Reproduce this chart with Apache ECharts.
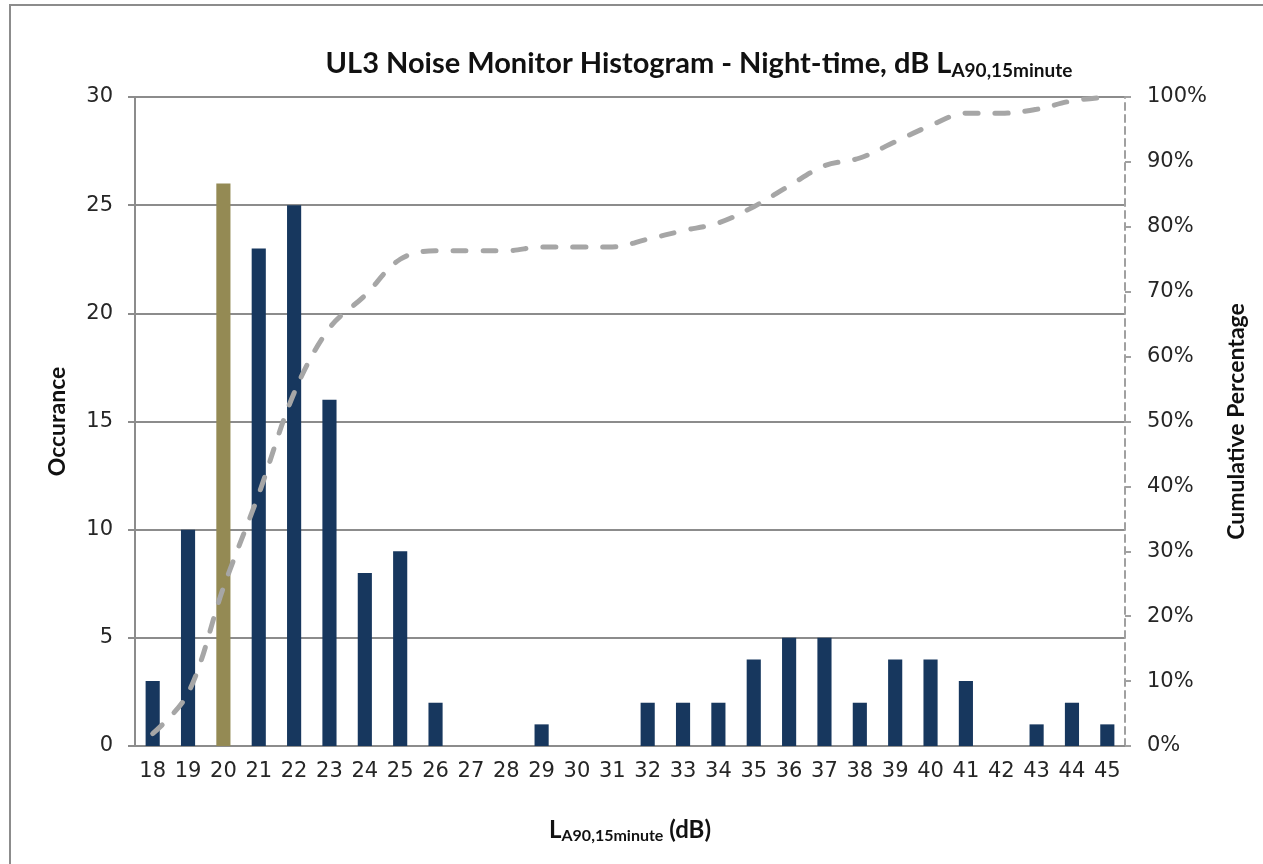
<!DOCTYPE html>
<html>
<head>
<meta charset="utf-8">
<script src="https://cdn.jsdelivr.net/npm/echarts@6/dist/echarts.min.js"></script>
<style>
  html, body { margin: 0; padding: 0; background: #fff; }
  #chart { width: 1263px; height: 864px; }
</style>
</head>
<body>
<div id="chart"></div>
<script>
// 噪声等级 (dB)
const levels = ['18','19','20','21','22','23','24','25','26','27','28','29','30','31',
  '32','33','34','35','36','37','38','39','40','41','42','43','44','45'];
// 出现次数
const occurrence = [3, 10, 26, 23, 25, 16, 8, 9, 2, 0, 0, 1, 0, 0,
  2, 2, 2, 4, 5, 5, 2, 4, 4, 3, 0, 1, 2, 1];
// 累计百分比
const cumulative = [1.9, 8.1, 24.4, 38.8, 54.4, 64.4, 69.4, 75.0, 76.3, 76.3, 76.3, 76.9, 76.9, 76.9,
  78.1, 79.4, 80.6, 83.1, 86.3, 89.4, 90.6, 93.1, 95.6, 97.5, 97.5, 98.1, 99.4, 100];
// 高亮的等级
const highlightLevel = '20';

const NAVY = '#17375e';
const OLIVE = '#948a54';
const GREY = '#8c8c8c';

const chart = echarts.init(document.getElementById('chart'));

const barData = occurrence.map((v, i) => ({
  value: v,
  itemStyle: { color: levels[i] === highlightLevel ? OLIVE : NAVY }
}));

const option = {
  animation: false,
  backgroundColor: '#fff',
  textStyle: { fontFamily: 'DejaVu Sans' },
  graphic: [{
    type: 'rect',
    shape: { x: 10, y: 5, width: 1300, height: 900 },
    style: { fill: 'none', stroke: GREY, lineWidth: 2 },
    silent: true
  }],
  title: {
    text: '{m|UL3 Noise Monitor Histogram - Night-time, dB L}{s|A90,15minute}',
    left: 694,
    textAlign: 'center',
    top: 42,
    textStyle: {
      rich: {
        m: { fontFamily: 'Lato', fontWeight: 'bold', fontSize: 29, color: '#111' },
        s: { fontFamily: 'Lato', fontWeight: 'bold', fontSize: 19, color: '#111', verticalAlign: 'bottom', padding: [14, 0, 0, 0] }
      }
    }
  },
  grid: { left: 135, right: 138, top: 97, bottom: 118 },
  xAxis: {
    type: 'category',
    data: levels,
    name: '{m|L}{s|A90,15minute}{m| (dB)}',
    nameLocation: 'middle',
    nameGap: 70,
    nameTextStyle: {
      rich: {
        m: { fontFamily: 'Lato', fontWeight: 'bold', fontSize: 24, color: '#111' },
        s: { fontFamily: 'Lato', fontWeight: 'bold', fontSize: 16, color: '#111', verticalAlign: 'bottom', padding: [12, 0, 0, 0] }
      }
    },
    axisLine: { lineStyle: { color: GREY, width: 2 } },
    axisTick: { length: 7, lineStyle: { color: GREY, width: 2 } },
    axisLabel: { fontSize: 21, color: '#262626', margin: 15, interval: 0 }
  },
  yAxis: [{
    type: 'value',
    min: 0,
    max: 30,
    interval: 5,
    name: 'Occurance',
    nameLocation: 'middle',
    nameGap: 66,
    nameTextStyle: { fontFamily: 'Lato', fontWeight: 'bold', fontSize: 23, color: '#111' },
    axisLine: { show: true, lineStyle: { color: GREY, width: 2 } },
    axisTick: { show: true, length: 7, lineStyle: { color: GREY, width: 2 } },
    axisLabel: { fontSize: 21, color: '#262626', margin: 22 },
    splitLine: { lineStyle: { color: GREY, width: 2 } }
  }, {
    type: 'value',
    min: 0,
    max: 100,
    interval: 10,
    name: 'Cumulative Percentage',
    nameLocation: 'middle',
    nameGap: 100,
    nameTextStyle: { fontFamily: 'Lato', fontWeight: 'bold', fontSize: 23, color: '#111' },
    axisLine: { show: true, lineStyle: { color: '#a0a0a0', width: 2, type: [7, 5] } },
    axisTick: { show: true, length: 6, lineStyle: { color: '#a0a0a0', width: 2 } },
    axisLabel: { fontSize: 21, color: '#262626', margin: 22, formatter: '{value}%' },
    splitLine: { show: false }
  }],
  series: [{
    name: 'Occurance',
    type: 'bar',
    data: barData,
    barWidth: '40%'
  }, {
    name: 'Cumulative Percentage',
    type: 'line',
    yAxisIndex: 1,
    data: cumulative,
    smooth: 0.35,
    symbol: 'none',
    lineStyle: { color: '#a6a6a6', width: 5, type: [13, 17], cap: 'round' },
    z: 3
  }]
};

chart.setOption(option);
window.addEventListener('resize', () => chart.resize());
</script>
</body>
</html>
